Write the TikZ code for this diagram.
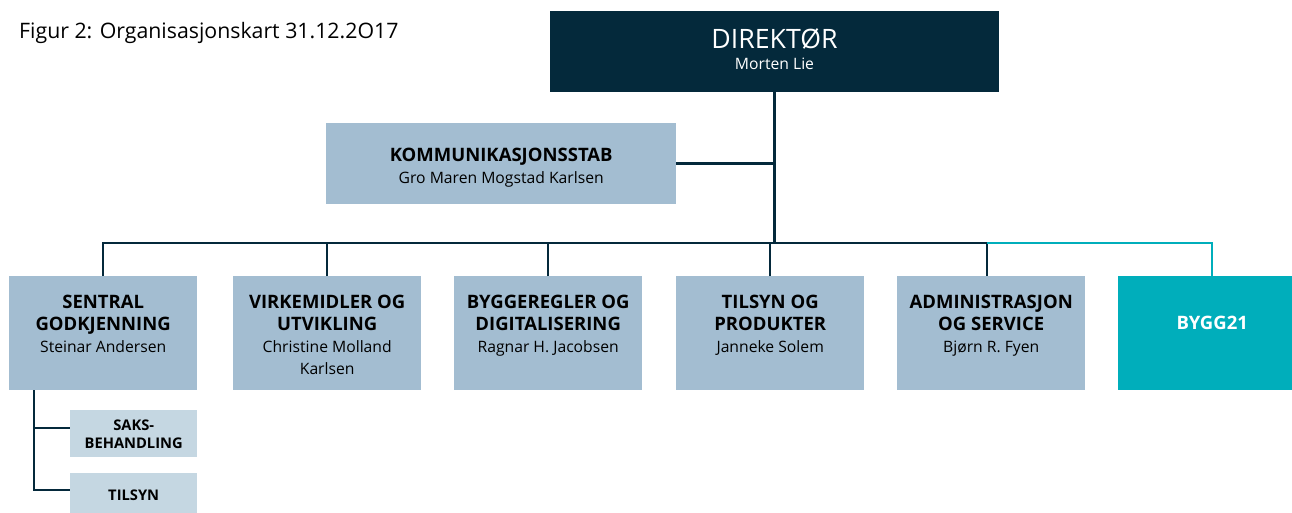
\documentclass[tikz,border=0pt]{standalone}
\usepackage{fontspec}
\setmainfont{Open Sans}
\definecolor{navy}{HTML}{04293B}
\definecolor{boxblue}{HTML}{A3BDD1}
\definecolor{subblue}{HTML}{C5D7E2}
\definecolor{teal21}{HTML}{00AEBB}
\newcommand{\nmfont}{\fontsize{15.7}{22}\selectfont\mdseries}
\begin{document}
\begin{tikzpicture}[x=1pt,y=-1pt,
  unitbox/.style={fill=boxblue, draw=none, minimum width=188pt, minimum height=114pt, anchor=north west, inner sep=0pt},
  subbox/.style={fill=subblue, draw=none, minimum width=127pt, minimum height=47pt, anchor=north west, inner sep=0pt},
  boxtext/.style={anchor=north, align=center, inner sep=0pt, text=black, font={\fontsize{18.5}{22}\selectfont\bfseries}},
  subtext/.style={anchor=north, align=center, inner sep=0pt, text=black, font={\fontsize{14.7}{18}\selectfont\bfseries}},
  conn/.style={draw=navy, line width=2.5pt},
  tconn/.style={draw=teal21, line width=2.5pt}]
\useasboundingbox (0,0) rectangle (1292,512);
\clip (0,0) rectangle (1292,512);

\node[anchor=base west, inner sep=0pt, font={\fontsize{21.3}{24}\selectfont}] (title) at (19,38) {Figur 2: Organisasjonskart 31.12.2O17};

% director
\node[fill=navy, minimum width=449pt, minimum height=81pt, anchor=north west, inner sep=0pt] (dir) at (550,11) {};
\node[anchor=base, inner sep=0pt, text=white, font={\fontsize{26.7}{30}\selectfont}] (dirt) at (774.5,48) {DIREKTØR};
\node[anchor=base, inner sep=0pt, text=white, font={\fontsize{15.7}{18}\selectfont}] (dirn) at (774.5,69) {Morten Lie};

% kommunikasjonsstab
\node[fill=boxblue, minimum width=350pt, minimum height=81pt, anchor=north west, inner sep=0pt] (komm) at (326,123) {};
\node[boxtext] (kommt) at ([yshift=-25]komm.north) {KOMMUNIKASJONSSTAB\\\nmfont Gro Maren Mogstad Karlsen};

% units
\node[unitbox] (sg) at (9,276) {};
\node[unitbox] (vu) at (233,276) {};
\node[unitbox] (bd) at (454,276) {};
\node[unitbox] (tp) at (676,276) {};
\node[unitbox] (as) at (897,276) {};
\node[unitbox, fill=teal21] (b21) at (1118,276) {};

\node[boxtext] (sgt) at ([yshift=-19]sg.north) {SENTRAL\\GODKJENNING\\\nmfont Steinar Andersen};
\node[boxtext] (vut) at ([yshift=-19]vu.north) {VIRKEMIDLER OG\\UTVIKLING\\\nmfont Christine Molland\\\nmfont Karlsen};
\node[boxtext] (bdt) at ([yshift=-19]bd.north) {BYGGEREGLER OG\\DIGITALISERING\\\nmfont Ragnar H. Jacobsen};
\node[boxtext] (tpt) at ([yshift=-19]tp.north) {TILSYN OG\\PRODUKTER\\\nmfont Janneke Solem};
\node[boxtext] (ast) at ([yshift=-19]as.north) {ADMINISTRASJON\\OG SERVICE\\\nmfont Bjørn R. Fyen};
\node[boxtext, text=white] (b21t) at ([yshift=-40]b21.north) {BYGG21};

% sub units
\node[subbox] (saks) at (70,410) {};
\node[subbox] (tsub) at (70,473) {};
\node[subtext] (sakst) at ([yshift=-10]saks.north) {SAKS-\\BEHANDLING};
\node[subtext] (tsubt) at ([yshift=-17]tsub.north) {TILSYN};

% connectors
\coordinate (bus) at (0,243);
\draw[conn] (dir.south) -- (dir.south |- bus);
\draw[conn] (komm.east) -- (komm.east -| dir.south);
\draw[conn] (sg.north) -- (sg.north |- bus) -- ([xshift=-4]as.north |- bus) -- ([xshift=-4]as.north);
\draw[conn] (vu.north) -- (vu.north |- bus);
\draw[conn] (bd.north) -- (bd.north |- bus);
\draw[conn] (tp.north) -- (tp.north |- bus);
\draw[tconn] ([xshift=-4]as.north |- bus) -- (b21.north |- bus) -- (b21.north);
\coordinate (sgdown) at ([xshift=25]sg.south west);
\coordinate (tsubin) at ([yshift=-17]tsub.north west);
\draw[conn] (sgdown) |- (tsubin);
\coordinate (saksin) at ([yshift=-18]saks.north west);
\draw[conn] (sgdown |- saksin) -- (saksin);
\end{tikzpicture}
\end{document}
